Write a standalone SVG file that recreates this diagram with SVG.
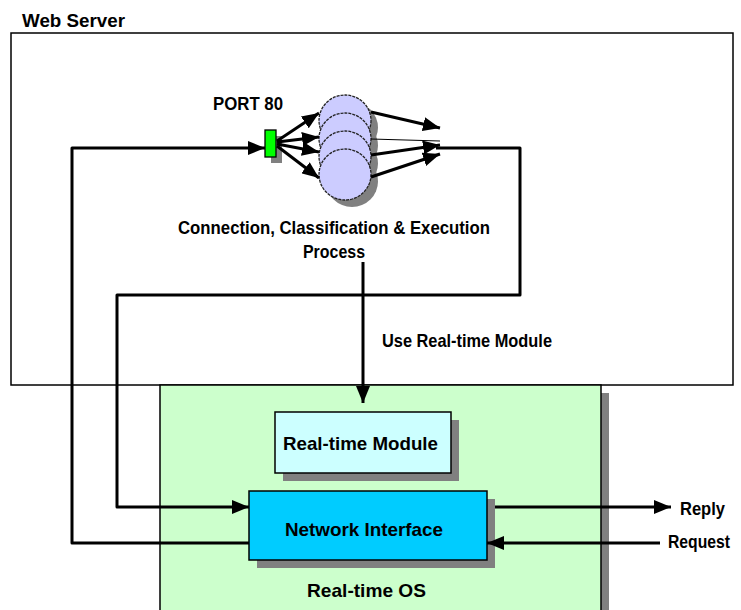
<svg xmlns="http://www.w3.org/2000/svg" width="741" height="610" viewBox="0 0 741 610">
  <style>
    .lbl { font-family: "Liberation Sans", Arial, sans-serif; font-weight: bold; font-size: 19px; fill: #000; }
    .box { stroke: #000; stroke-width: 1.5; }
    .shadow { fill: #808080; }
    .wire { fill: none; stroke: #000; stroke-width: 3; stroke-linejoin: round; }
    .fan { fill: none; stroke: #000; stroke-width: 3; }
    .proc { fill: #ccccff; stroke: #222; stroke-width: 1.3; stroke-dasharray: 3 1; }
  </style>
  <defs>
    <marker id="arrow" markerUnits="userSpaceOnUse" markerWidth="18" markerHeight="14" refX="17" refY="7" orient="auto">
      <path d="M0,0 L17,7 L0,14 Z" fill="#000"/>
    </marker>
  </defs>

  <rect width="741" height="610" fill="#fff"/>

  <!-- Web Server container -->
  <g id="web-server">
    <rect class="box" x="11" y="33" width="722" height="352" fill="#fff"/>
    <text class="lbl" x="22" y="27" textLength="103" lengthAdjust="spacingAndGlyphs">Web Server</text>
  </g>

  <!-- Real-time OS container -->
  <g id="realtime-os">
    <rect class="shadow" x="601" y="393" width="8" height="217"/>
    <rect class="box" x="160" y="385" width="441" height="230" fill="#ccffcc"/>
    <text class="lbl" x="307" y="597" textLength="119" lengthAdjust="spacingAndGlyphs">Real-time OS</text>
  </g>

  <!-- Real-time Module -->
  <g id="realtime-module">
    <rect class="shadow" x="283" y="420" width="176" height="61"/>
    <rect class="box" x="275" y="412" width="176" height="61" fill="#ccffff"/>
    <text class="lbl" x="283" y="450" textLength="155" lengthAdjust="spacingAndGlyphs">Real-time Module</text>
  </g>

  <!-- Network Interface -->
  <g id="network-interface">
    <rect class="shadow" x="257" y="499" width="238" height="69"/>
    <rect class="box" x="249" y="491" width="238" height="69" fill="#00ccff"/>
    <text class="lbl" x="285" y="536" textLength="158" lengthAdjust="spacingAndGlyphs">Network Interface</text>
  </g>

  <!-- Port 80 -->
  <g id="port-80">
    <rect class="shadow" x="271" y="136" width="11" height="27"/>
    <rect x="265" y="130" width="11" height="27" fill="#00ff00" stroke="#000" stroke-width="1.3"/>
    <text class="lbl" x="213" y="110" textLength="70" lengthAdjust="spacingAndGlyphs">PORT 80</text>
  </g>

  <!-- Process pool -->
  <g id="process-pool">
    <ellipse class="shadow" cx="352" cy="127.5" rx="26" ry="25.5"/>
    <ellipse class="shadow" cx="352" cy="145.5" rx="26" ry="25.5"/>
    <ellipse class="shadow" cx="352" cy="163.5" rx="26" ry="25.5"/>
    <ellipse class="shadow" cx="352" cy="181.5" rx="26" ry="25.5"/>
    <ellipse class="proc" cx="345" cy="120.5" rx="26" ry="25.5"/>
    <ellipse class="proc" cx="345" cy="138.5" rx="26" ry="25.5"/>
    <ellipse class="proc" cx="345" cy="156.5" rx="26" ry="25.5"/>
    <ellipse class="proc" cx="345" cy="174.5" rx="26" ry="25.5"/>
    <text class="lbl" x="178" y="234" textLength="312" lengthAdjust="spacingAndGlyphs">Connection, Classification &amp; Execution</text>
    <text class="lbl" x="303" y="258" textLength="62" lengthAdjust="spacingAndGlyphs">Process</text>
  </g>

  <!-- External labels -->
  <g id="reply-label">
    <text class="lbl" x="680" y="515" textLength="45" lengthAdjust="spacingAndGlyphs">Reply</text>
  </g>
  <g id="request-label">
    <text class="lbl" x="668" y="548" font-size="17" textLength="62" lengthAdjust="spacingAndGlyphs">Request</text>
  </g>

  <!-- Connectors -->
  <g id="connectors">
    <!-- port to process fan-out -->
    <line class="fan" x1="277" y1="141" x2="319" y2="113" marker-end="url(#arrow)"/>
    <line class="fan" x1="277" y1="142" x2="319" y2="137" marker-end="url(#arrow)"/>
    <line class="fan" x1="277" y1="144" x2="319" y2="152" marker-end="url(#arrow)"/>
    <line class="fan" x1="277" y1="146" x2="319" y2="178" marker-end="url(#arrow)"/>
    <!-- processes to output -->
    <line class="fan" x1="371" y1="112" x2="440" y2="128" marker-end="url(#arrow)"/>
    <line x1="371" y1="139" x2="440" y2="141" stroke="#000" stroke-width="1.2"/>
    <line class="fan" x1="371" y1="155" x2="440" y2="145" marker-end="url(#arrow)"/>
    <line class="fan" x1="371" y1="177" x2="440" y2="154" marker-end="url(#arrow)"/>
    <!-- output back down to the network interface -->
    <polyline class="wire" points="436,148 520,148 520,295 117,295 117,507 249,507" marker-end="url(#arrow)"/>
    <!-- network interface up to the port -->
    <polyline class="wire" points="249,543 72,543 72,148 265,148" marker-end="url(#arrow)"/>
    <!-- use real-time module -->
    <line class="fan" x1="363" y1="262" x2="363" y2="403" marker-end="url(#arrow)"/>
    <text class="lbl" x="382" y="347" textLength="170" lengthAdjust="spacingAndGlyphs">Use Real-time Module</text>
    <!-- reply / request -->
    <line class="fan" x1="495" y1="507" x2="671" y2="507" marker-end="url(#arrow)"/>
    <line class="fan" x1="660" y1="543" x2="487" y2="543" marker-end="url(#arrow)"/>
  </g>
</svg>
